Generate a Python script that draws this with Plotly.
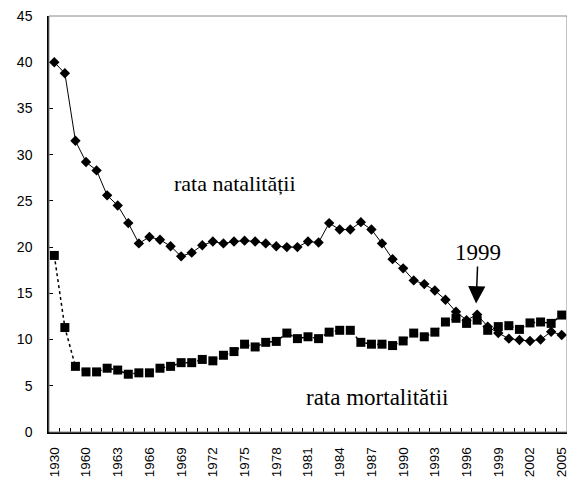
import plotly.graph_objects as go

years = ["1930", "1950", "1955"] + [str(y) for y in range(1960, 2006)]

natalitate = [40.0, 38.8, 31.5, 29.2, 28.3, 25.6, 24.5, 22.6, 20.4, 21.1,
              20.8, 20.1, 19.0, 19.4, 20.2, 20.6, 20.4, 20.6, 20.7, 20.6,
              20.4, 20.1, 20.0, 20.0, 20.6, 20.5, 22.6, 21.9, 21.9, 22.7,
              21.9, 20.4, 18.7, 17.7, 16.4, 16.0, 15.3, 14.3, 13.0, 12.1,
              12.7, 11.4, 10.7, 10.1, 9.95, 9.85, 10.0, 10.85, 10.5]

mortalitate = [19.1, 11.3, 7.1, 6.5, 6.5, 6.9, 6.7, 6.25, 6.4, 6.4,
               6.9, 7.1, 7.5, 7.5, 7.85, 7.7, 8.3, 8.7, 9.5, 9.2,
               9.7, 9.8, 10.7, 10.1, 10.3, 10.1, 10.8, 11.0, 11.0, 9.7,
               9.5, 9.5, 9.35, 9.85, 10.7, 10.3, 10.8, 11.9, 12.3, 11.75,
               12.1, 11.0, 11.4, 11.5, 11.1, 11.8, 11.9, 11.75, 12.65]

tick_text = [y if i % 3 == 0 else "" for i, y in enumerate(years)]
y_ticks = list(range(0, 50, 5))

fig = go.Figure()
fig.add_trace(go.Scatter(
    x=years, y=mortalitate, mode="lines+markers",
    line=dict(color="black", width=1.5, dash="dot"),
    marker=dict(symbol="square", size=9, color="black"),
    name="rata mortalității", cliponaxis=False))
fig.add_trace(go.Scatter(
    x=years, y=natalitate, mode="lines+markers",
    line=dict(color="black", width=1),
    marker=dict(symbol="diamond", size=8, color="black"),
    name="rata natalității", cliponaxis=False))

serif = "Liberation Serif, Times New Roman, serif"
fig.add_annotation(x=17.1, y=26.9, xref="x", yref="y", text="rata natalității",
                   showarrow=False, font=dict(family=serif, size=22, color="black"))
fig.add_annotation(x=30.5, y=3.7, xref="x", yref="y", text="rata mortalitătii",
                   showarrow=False, font=dict(family=serif, size=23, color="black"))
fig.add_annotation(x=39.9, y=13.9, xref="x", yref="y", text="1999",
                   showarrow=True, ax=2, ay=-51, arrowhead=2, arrowsize=2.3,
                   arrowwidth=1.5, arrowcolor="black", standoff=0,
                   font=dict(family=serif, size=23, color="black"))

fig.add_shape(type="rect", xref="paper", yref="paper", x0=0, x1=1, y0=0, y1=1,
              line=dict(color="#888888", width=1), layer="above")

fig.update_layout(
    width=575, height=479,
    margin=dict(l=41, r=16, t=8, b=55, autoexpand=False),
    paper_bgcolor="white", plot_bgcolor="white",
    showlegend=False,
    font=dict(family="Liberation Sans, Arial, sans-serif", size=14, color="black"),
)
fig.update_xaxes(
    type="category", tickmode="array", tickvals=years, ticktext=tick_text,
    tickangle=-90, ticks="inside", tickson="boundaries", ticklen=4,
    tickcolor="black", showline=True, linecolor="black", linewidth=1.5,
    showgrid=False, zeroline=False, range=[-0.5, len(years) - 0.5],
    ticklabelstandoff=8, automargin=False, ticklabeloverflow="allow",
    tickfont=dict(family="Liberation Sans, Arial, sans-serif", size=13.5, color="black"),
)
fig.update_yaxes(
    range=[0, 45], tickvals=y_ticks, ticks="inside", ticklen=4, tickcolor="black",
    showline=True, linecolor="black", linewidth=1.5, showgrid=False, zeroline=False,
    ticklabelstandoff=12, automargin=False, ticklabeloverflow="allow",
    tickfont=dict(family="Liberation Sans, Arial, sans-serif", size=14, color="black"),
)

fig.write_html("out.html")
